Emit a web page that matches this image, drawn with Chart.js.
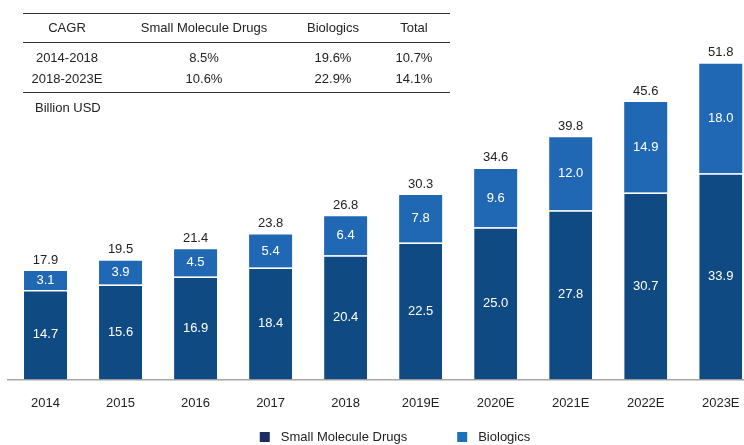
<!DOCTYPE html>
<html>
<head>
<meta charset="utf-8">
<script src="https://cdn.jsdelivr.net/npm/chart.js@4/dist/chart.umd.min.js"></script>
<style>
  html, body { margin:0; padding:0; background:#fff; overflow:hidden; }
  #wrap { position:relative; width:744px; height:445px; font-family:"Liberation Sans", Arial, sans-serif; }
  #c { position:absolute; left:0; top:0; }
  .ln { position:absolute; left:23px; width:427px; height:0; border-top:1.5px solid #333; }
  .t { position:absolute; font-size:13px; color:#222; transform:translate(-50%,-50%); white-space:nowrap; }
  .u { position:absolute; font-size:13px; color:#222; left:35px; top:107px; transform:translateY(-50%); white-space:nowrap; }
</style>
</head>
<body>
<div id="wrap">
  <canvas id="c" width="744" height="445"></canvas>
  <div id="tbl"></div>
</div>
<script>
const categories = ['2014','2015','2016','2017','2018','2019E','2020E','2021E','2022E','2023E'];
const smallMolecule = [14.7,15.6,16.9,18.4,20.4,22.5,25.0,27.8,30.7,33.9];
const biologics = [3.1,3.9,4.5,5.4,6.4,7.8,9.6,12.0,14.9,18.0];
const totals = [17.9,19.5,21.4,23.8,26.8,30.3,34.6,39.8,45.6,51.8];
const seriesNames = ['Small Molecule Drugs','Biologics'];

const cagrHeader = ['CAGR','Small Molecule Drugs','Biologics','Total'];
const cagrRows = [
  ['2014-2018','8.5%','19.6%','10.7%'],
  ['2018-2023E','10.6%','22.9%','14.1%']
];
const unitLabel = 'Billion USD';

// --- table (HTML overlay) ---
(function(){
  const tbl = document.getElementById('tbl');
  const colX = [67, 204, 333, 414];
  const rowY = [27, 57, 78];
  [13, 42, 92].forEach(y => {
    const d = document.createElement('div'); d.className='ln'; d.style.top = y+'px'; tbl.appendChild(d);
  });
  [cagrHeader].concat(cagrRows).forEach((row, r) => {
    row.forEach((txt, c) => {
      const s = document.createElement('div'); s.className='t';
      s.style.left = colX[c]+'px'; s.style.top = rowY[r]+'px'; s.textContent = txt;
      tbl.appendChild(s);
    });
  });
  const u = document.createElement('div'); u.className='u'; u.textContent = unitLabel; tbl.appendChild(u);
})();

Chart.defaults.font.family = '"Liberation Sans", Arial, sans-serif';
Chart.defaults.font.size = 13;
Chart.defaults.color = '#222';

const barColors = ['#0f4a82', '#2168b4'];
const legendColors = ['#1c2d63', '#1a72bd'];

const labelPlugin = {
  id: 'labels',
  afterDatasetsDraw(chart) {
    const ctx = chart.ctx;
    ctx.save();
    ctx.font = '13px "Liberation Sans", Arial, sans-serif';
    ctx.textAlign = 'center';
    ctx.textBaseline = 'middle';
    chart.data.datasets.forEach((ds, di) => {
      const meta = chart.getDatasetMeta(di);
      meta.data.forEach((bar, i) => {
        const v = ds.data[i].y;
        ctx.fillStyle = '#ffffff';
        ctx.fillText(v.toFixed(1), bar.x, (bar.y + bar.base) / 2);
      });
    });
    const top = chart.getDatasetMeta(chart.data.datasets.length - 1);
    top.data.forEach((bar, i) => {
      ctx.fillStyle = '#222';
      ctx.fillText(totals[i].toFixed(1), bar.x, bar.y - 11);
    });
    // legend
    const items = chart.data.datasets.map((ds, i) => ({ text: ds.label, color: legendColors[i] }));
    const box = 10, gapTxt = 11, gapItem = 50;
    const widths = items.map(it => box + gapTxt + ctx.measureText(it.text).width);
    const total = widths.reduce((a,b)=>a+b,0) + gapItem*(items.length-1);
    let x = 395 - total/2;
    const yc = 437;
    ctx.textAlign = 'left';
    items.forEach((it, i) => {
      ctx.fillStyle = it.color;
      ctx.fillRect(x, yc - 5, box, box);
      ctx.fillStyle = '#222';
      ctx.fillText(it.text, x + box + gapTxt, yc);
      x += widths[i] + gapItem;
    });
    ctx.restore();
  }
};

new Chart(document.getElementById('c'), {
  type: 'bar',
  data: {
    datasets: [
      { label: seriesNames[0], data: smallMolecule.map((v,i)=>({x:i, y:v})), backgroundColor: barColors[0],
        borderColor: '#ffffff', borderWidth: {top:1.5, left:0, right:0, bottom:0}, borderSkipped: false },
      { label: seriesNames[1], data: biologics.map((v,i)=>({x:i, y:v})), backgroundColor: barColors[1],
        borderColor: '#ffffff', borderWidth: 0 }
    ]
  },
  options: {
    responsive: false,
    animation: false,
    events: [],
    layout: { padding: { top: 18, bottom: 18, left: 8, right: 0 } },
    datasets: { bar: { barPercentage: 0.573, categoryPercentage: 1.0 } },
    plugins: { legend: { display: false }, tooltip: { enabled: false } },
    scales: {
      x: {
        type: 'linear', stacked: true, min: -0.5, max: 9.31, offset: false,
        grid: { display: false, drawTicks: false },
        border: { display: true, color: '#a6a6a6', width: 1.5 },
        afterFit: (scale) => { scale.paddingLeft = 0; scale.paddingRight = 0; },
        ticks: { stepSize: 1, includeBounds: false, autoSkip: false, maxRotation: 0, padding: 16,
          color: '#222', font: { size: 13 },
          callback: (v) => Number.isInteger(v) && categories[v] ? categories[v] : '' }
      },
      y: { stacked: true, min: 0, max: 59.4, display: false }
    }
  },
  plugins: [labelPlugin]
});
</script>
</body>
</html>
